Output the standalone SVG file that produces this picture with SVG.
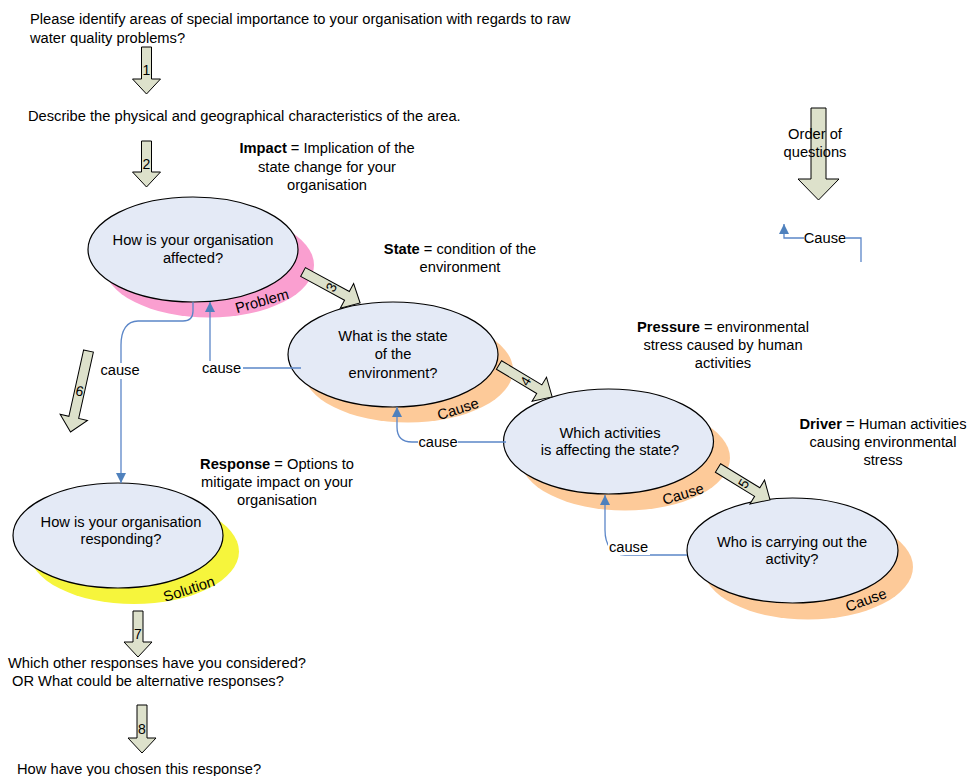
<svg xmlns="http://www.w3.org/2000/svg" width="968" height="776" viewBox="0 0 968 776">
  <defs>
    <style>
      text { font-family: "Liberation Sans", Arial, sans-serif; font-size: 14.7px; fill: #000; }
      .c { text-anchor: middle; }
      .b { font-weight: bold; }
      .num { font-size: 14px; text-anchor: middle; }
      .node { fill: #e4eaf6; stroke: #000; stroke-width: 1.2; }
      .pink { fill: #fa9fd0; }
      .orange { fill: #fdca99; }
      .yellow { fill: #f6f53c; }
      .block { fill: #dde1cb; stroke: #000; stroke-width: 1; }
      .link { fill: none; stroke: #5b86c8; stroke-width: 1.3; }
      .bg { fill: #fff; }
    </style>
    <marker id="tip" markerUnits="userSpaceOnUse" markerWidth="10" markerHeight="10" viewBox="0 0 10 10" refX="10" refY="5" orient="auto">
      <path d="M0,0 L10,5 L0,10 z" fill="#4f81bd"/>
    </marker>
  </defs>

  <rect width="968" height="776" fill="#fff"/>

  <!-- free text -->
  <g id="intro">
    <text x="30" y="24">Please identify areas of special importance to your organisation with regards to raw</text>
    <text x="30" y="43">water quality problems?</text>
    <text x="28" y="121">Describe the physical and geographical characteristics of the area.</text>
  </g>

  <g id="def-impact">
    <text class="c" x="327" y="153"><tspan class="b">Impact</tspan> = Implication of the</text>
    <text class="c" x="327" y="172">state change for your</text>
    <text class="c" x="327" y="190">organisation</text>
  </g>
  <g id="def-state">
    <text class="c" x="460" y="254"><tspan class="b">State</tspan> = condition of the</text>
    <text class="c" x="460" y="272">environment</text>
  </g>
  <g id="def-pressure">
    <text class="c" x="723" y="332"><tspan class="b">Pressure</tspan> = environmental</text>
    <text class="c" x="723" y="350">stress caused by human</text>
    <text class="c" x="723" y="368">activities</text>
  </g>
  <g id="def-driver">
    <text class="c" x="883" y="429"><tspan class="b">Driver</tspan> = Human activities</text>
    <text class="c" x="883" y="447">causing environmental</text>
    <text class="c" x="883" y="465">stress</text>
  </g>
  <g id="def-response">
    <text class="c" x="277" y="469"><tspan class="b">Response</tspan> = Options to</text>
    <text class="c" x="277" y="487">mitigate impact on your</text>
    <text class="c" x="277" y="505">organisation</text>
  </g>

  <g id="followup">
    <text x="8" y="668">Which other responses have you considered?</text>
    <text x="12" y="686">OR What could be alternative responses?</text>
    <text x="17" y="774">How have you chosen this response?</text>
  </g>

  <!-- DPSIR nodes: coloured shadow, ellipse, question, tag -->
  <g id="impact">
    <ellipse class="pink" cx="209" cy="265" rx="105" ry="52.5"/>
    <ellipse class="node" cx="193" cy="249.5" rx="105" ry="52.5"/>
    <text class="c" x="193" y="245">How is your organisation</text>
    <text class="c" x="193" y="263">affected?</text>
    <text class="c" transform="translate(262,301) rotate(-16)" y="5">Problem</text>
  </g>

  <g id="state">
    <ellipse class="orange" cx="408" cy="370" rx="105" ry="52.5"/>
    <ellipse class="node" cx="393" cy="354.5" rx="105" ry="52.5"/>
    <text class="c" x="393" y="341">What is the state</text>
    <text class="c" x="393" y="359">of the</text>
    <text class="c" x="393" y="378">environment?</text>
    <text class="c" transform="translate(458,409) rotate(-18)" y="5">Cause</text>
  </g>

  <g id="pressure">
    <ellipse class="orange" cx="625" cy="458" rx="105" ry="52.5"/>
    <ellipse class="node" cx="608.5" cy="441.5" rx="105" ry="52.5"/>
    <text class="c" x="610" y="438">Which activities</text>
    <text class="c" x="610" y="455">is affecting the state?</text>
    <text class="c" transform="translate(683,494) rotate(-17)" y="5">Cause</text>
  </g>

  <g id="driver">
    <ellipse class="orange" cx="808" cy="567" rx="105" ry="52.5"/>
    <ellipse class="node" cx="792.5" cy="550.5" rx="105.5" ry="52.5"/>
    <text class="c" x="792" y="547">Who is carrying out the</text>
    <text class="c" x="792" y="564">activity?</text>
    <text class="c" transform="translate(866,600) rotate(-20)" y="5">Cause</text>
  </g>

  <g id="response">
    <ellipse class="yellow" cx="134" cy="551.5" rx="105" ry="52.5"/>
    <ellipse class="node" cx="118" cy="535.5" rx="105" ry="52.5"/>
    <text class="c" x="121" y="527">How is your organisation</text>
    <text class="c" x="121" y="544">responding?</text>
    <text class="c" transform="translate(189,589) rotate(-18)" y="5">Solution</text>
  </g>

  <!-- numbered block arrows giving the order of questions -->
  <g id="order-arrows">
    <g transform="translate(146.5,47)">
      <polygon class="block" points="-5,0 5,0 5,32 14,32 0,47 -14,32 -5,32"/>
      <text class="num" y="28">1</text>
    </g>
    <g transform="translate(146.5,141)">
      <polygon class="block" points="-5,0 5,0 5,31 14,31 0,46 -14,31 -5,31"/>
      <text class="num" y="28">2</text>
    </g>
    <g transform="translate(303,272) rotate(-61.5)">
      <polygon class="block" points="-5,0 5,0 5,50 14,50 0,65 -14,50 -5,50"/>
      <text class="num" y="37">3</text>
    </g>
    <g transform="translate(499,365) rotate(-59)">
      <polygon class="block" points="-5,0 5,0 5,47 14,47 0,62 -14,47 -5,47"/>
      <text class="num" y="36">4</text>
    </g>
    <g transform="translate(718,468) rotate(-58.5)">
      <polygon class="block" points="-5,0 5,0 5,46 14,46 0,61 -14,46 -5,46"/>
      <text class="num" y="35">5</text>
    </g>
    <g transform="translate(88.5,351) rotate(12.5)">
      <polygon class="block" points="-5,0 5,0 5,68 14,68 0,83 -14,68 -5,68"/>
      <text class="num" y="46">6</text>
    </g>
    <g transform="translate(138,611)">
      <polygon class="block" points="-5,0 5,0 5,31 14,31 0,46 -14,31 -5,31"/>
      <text class="num" y="28">7</text>
    </g>
    <g transform="translate(142,705)">
      <polygon class="block" points="-5,0 5,0 5,33 14,33 0,48 -14,33 -5,33"/>
      <text class="num" y="29">8</text>
    </g>
  </g>

  <!-- cause connectors -->
  <g id="connectors">
    <path class="link" d="M301,368 H210 V302" marker-end="url(#tip)"/>
    <rect class="bg" x="201" y="361" width="42" height="16"/>
    <text class="c" x="221.5" y="373">cause</text>

    <path class="link" d="M193,302 V311 Q193,321 183,321 H138 C127,321 121,330 121,345 V483" marker-end="url(#tip)"/>
    <rect class="bg" x="100" y="363" width="41" height="16"/>
    <text class="c" x="120" y="375">cause</text>

    <path class="link" d="M506,442 H412 Q397,442 397,427 V407" marker-end="url(#tip)"/>
    <rect class="bg" x="418" y="435" width="40" height="15"/>
    <text class="c" x="438" y="447">cause</text>

    <path class="link" d="M687,555 H625 C612,555 605,545 605,530 V495" marker-end="url(#tip)"/>
    <rect class="bg" x="608" y="539" width="42" height="16"/>
    <text class="c" x="628.5" y="552">cause</text>
  </g>

  <!-- key -->
  <g id="key-order">
    <polygon class="block" points="811,108 826,108 826,179 839,179 818.5,200 798,179 811,179"/>
    <text class="c" x="815" y="139">Order of</text>
    <text class="c" x="815" y="157">questions</text>
  </g>
  <g id="key-cause">
    <path class="link" d="M861,262 V238 H784 V224" marker-end="url(#tip)"/>
    <rect class="bg" x="804" y="231" width="42" height="15"/>
    <text class="c" x="825" y="243">Cause</text>
  </g>
</svg>
